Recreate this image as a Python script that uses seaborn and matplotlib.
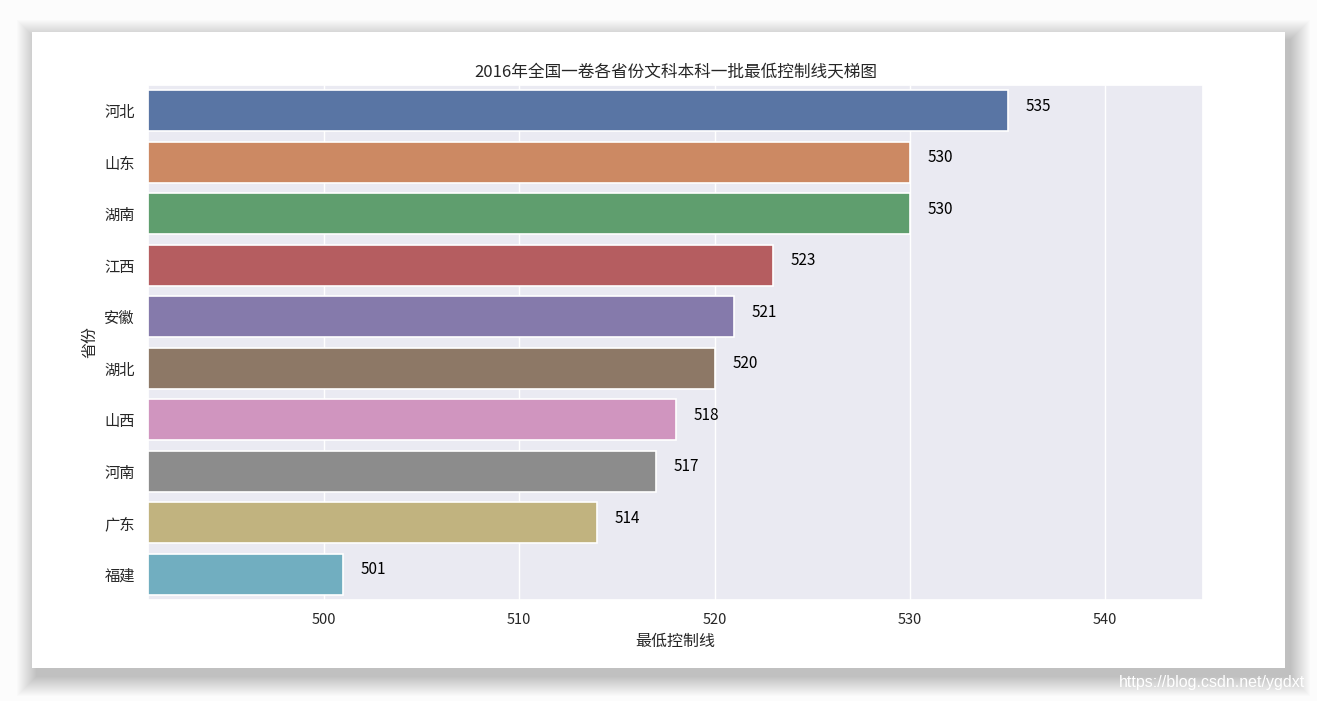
import matplotlib
matplotlib.use("Agg")
import matplotlib.pyplot as plt
import seaborn as sns
import pandas as pd
from matplotlib.patches import Rectangle

provinces = ["河北", "山东", "湖南", "江西", "安徽", "湖北", "山西", "河南", "广东", "福建"]
scores = [535, 530, 530, 523, 521, 520, 518, 517, 514, 501]

sns.set_theme(style="darkgrid")
plt.rcParams['font.family'] = ['Noto Sans CJK SC', 'DejaVu Sans']
plt.rcParams['axes.unicode_minus'] = False

W, H = 1317, 701
fig = plt.figure(figsize=(W / 100, H / 100), dpi=100, facecolor="#fcfcfc")

# card with soft shadow (offset down/right)
cx0, cy0, cx1, cy1 = 32, 32, 1285, 668
for k in range(20, 0, -1):
    fig.patches.append(Rectangle(((cx0 - k + 5) / W, 1 - (cy1 + k + 8) / H),
                                 (cx1 - cx0 + 2 * k) / W, (cy1 - cy0 + 2 * k) / H,
                                 transform=fig.transFigure, facecolor="black",
                                 alpha=0.013, edgecolor="none", zorder=0))
fig.patches.append(Rectangle((cx0 / W, 1 - cy1 / H), (cx1 - cx0) / W, (cy1 - cy0) / H,
                             transform=fig.transFigure, facecolor="white",
                             edgecolor="none", zorder=1))

ax = fig.add_axes([148 / W, 1 - 600 / H, (1203 - 148) / W, (600 - 85) / H])
ax.set_zorder(2)

df = pd.DataFrame({"省份": provinces, "最低控制线": scores})
sns.barplot(data=df, x="最低控制线", y="省份", hue="省份", palette="deep",
            legend=False, ax=ax, orient="h", edgecolor="white", linewidth=1.2)
ax.set_xlim(min(scores) - 10, max(scores) + 10)
ax.set_xticks([500, 510, 520, 530, 540])
for i, v in enumerate(scores):
    ax.text(v + 0.9, i, str(v), fontsize=11, color="black")

ax.set_title("2016年全国一卷各省份文科本科一批最低控制线天梯图", fontsize=12)
ax.set_xlabel("最低控制线", fontsize=11.5)
ax.set_ylabel("省份", fontsize=11.5)
ax.tick_params(axis="y", labelsize=11)
ax.tick_params(axis="x", labelsize=10.5)

fig.text(1305 / W, 1 - 683 / H, "https://blog.csdn.net/ygdxt", ha="right", va="center",
         color="white", fontsize=11.5, family=["Liberation Sans", "DejaVu Sans"], zorder=5)

fig.savefig("out.png", dpi=100, facecolor=fig.get_facecolor())
